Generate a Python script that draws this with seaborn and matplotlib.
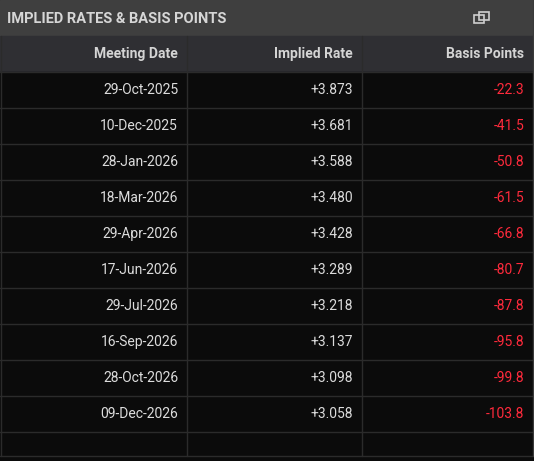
import matplotlib
matplotlib.use("Agg")
import matplotlib.pyplot as plt
import seaborn as sns
from matplotlib.patches import Rectangle

sns.set_theme(style="dark")
plt.rcParams['font.family'] = ['Roboto', 'DejaVu Sans']

title = "IMPLIED RATES & BASIS POINTS"
columns = ["Meeting Date", "Implied Rate", "Basis Points"]
dates = ["29-Oct-2025", "10-Dec-2025", "28-Jan-2026", "18-Mar-2026", "29-Apr-2026",
         "17-Jun-2026", "29-Jul-2026", "16-Sep-2026", "28-Oct-2026", "09-Dec-2026"]
rates = [3.873, 3.681, 3.588, 3.480, 3.428, 3.289, 3.218, 3.137, 3.098, 3.058]
bps = [-22.3, -41.5, -50.8, -61.5, -66.8, -80.7, -87.8, -95.8, -99.8, -103.8]

W, H = 534, 461
fig = plt.figure(figsize=(W / 100, H / 100), dpi=100)
ax = fig.add_axes([0, 0, 1, 1])
ax.set_xlim(0, W)
ax.set_ylim(H, 0)
ax.axis("off")
fig.patch.set_facecolor("#0b0b0b")

# title bar
ax.add_patch(Rectangle((0, 0), W, 36, color="#3f3f3f"))
ax.text(7, 19, title, color="#d6d6d6", fontsize=10.5, fontweight="bold", va="center", ha="left")
ax.add_patch(Rectangle((474, 15), 10, 8, fill=False, ec="#cfcfcf", lw=1.2))
ax.add_patch(Rectangle((479, 12), 10, 8, fill=False, ec="#cfcfcf", lw=1.2))
# header row
ax.add_patch(Rectangle((0, 36), W, 36, color="#2f2f33"))
ax.add_patch(Rectangle((0, 72), W, H - 72, color="#0b0b0b"))
right_edges = [178, 353, 524]
for x, c in zip(right_edges, columns):
    ax.text(x, 54, c, color="#d4d4d4", fontsize=10, fontweight="bold", ha="right", va="center")

row_h = 36
for i, (d, r, b) in enumerate(zip(dates, rates, bps)):
    yc = 72 + row_h * i + row_h / 2
    ax.text(right_edges[0], yc, d, color="#dcdcdc", fontsize=10, ha="right", va="center")
    ax.text(right_edges[1], yc, f"{r:+.3f}", color="#dcdcdc", fontsize=10, ha="right", va="center")
    ax.text(right_edges[2], yc, f"{b:.1f}", color="#ff2a3c", fontsize=10, ha="right", va="center")

grid = "#2b2b2b"
for i in range(len(dates) + 1):
    y = 72 + row_h * i
    ax.plot([0, W], [y, y], color=grid, lw=1)
ax.plot([0, W], [456, 456], color=grid, lw=1)
for x in [187, 362]:
    ax.plot([x, x], [36, 456], color=grid, lw=1)
ax.plot([1, 1], [36, 456], color=grid, lw=1)
ax.plot([533, 533], [0, 456], color="#3a3a3a", lw=1)

fig.savefig("out.png", dpi=100, facecolor=fig.get_facecolor())
